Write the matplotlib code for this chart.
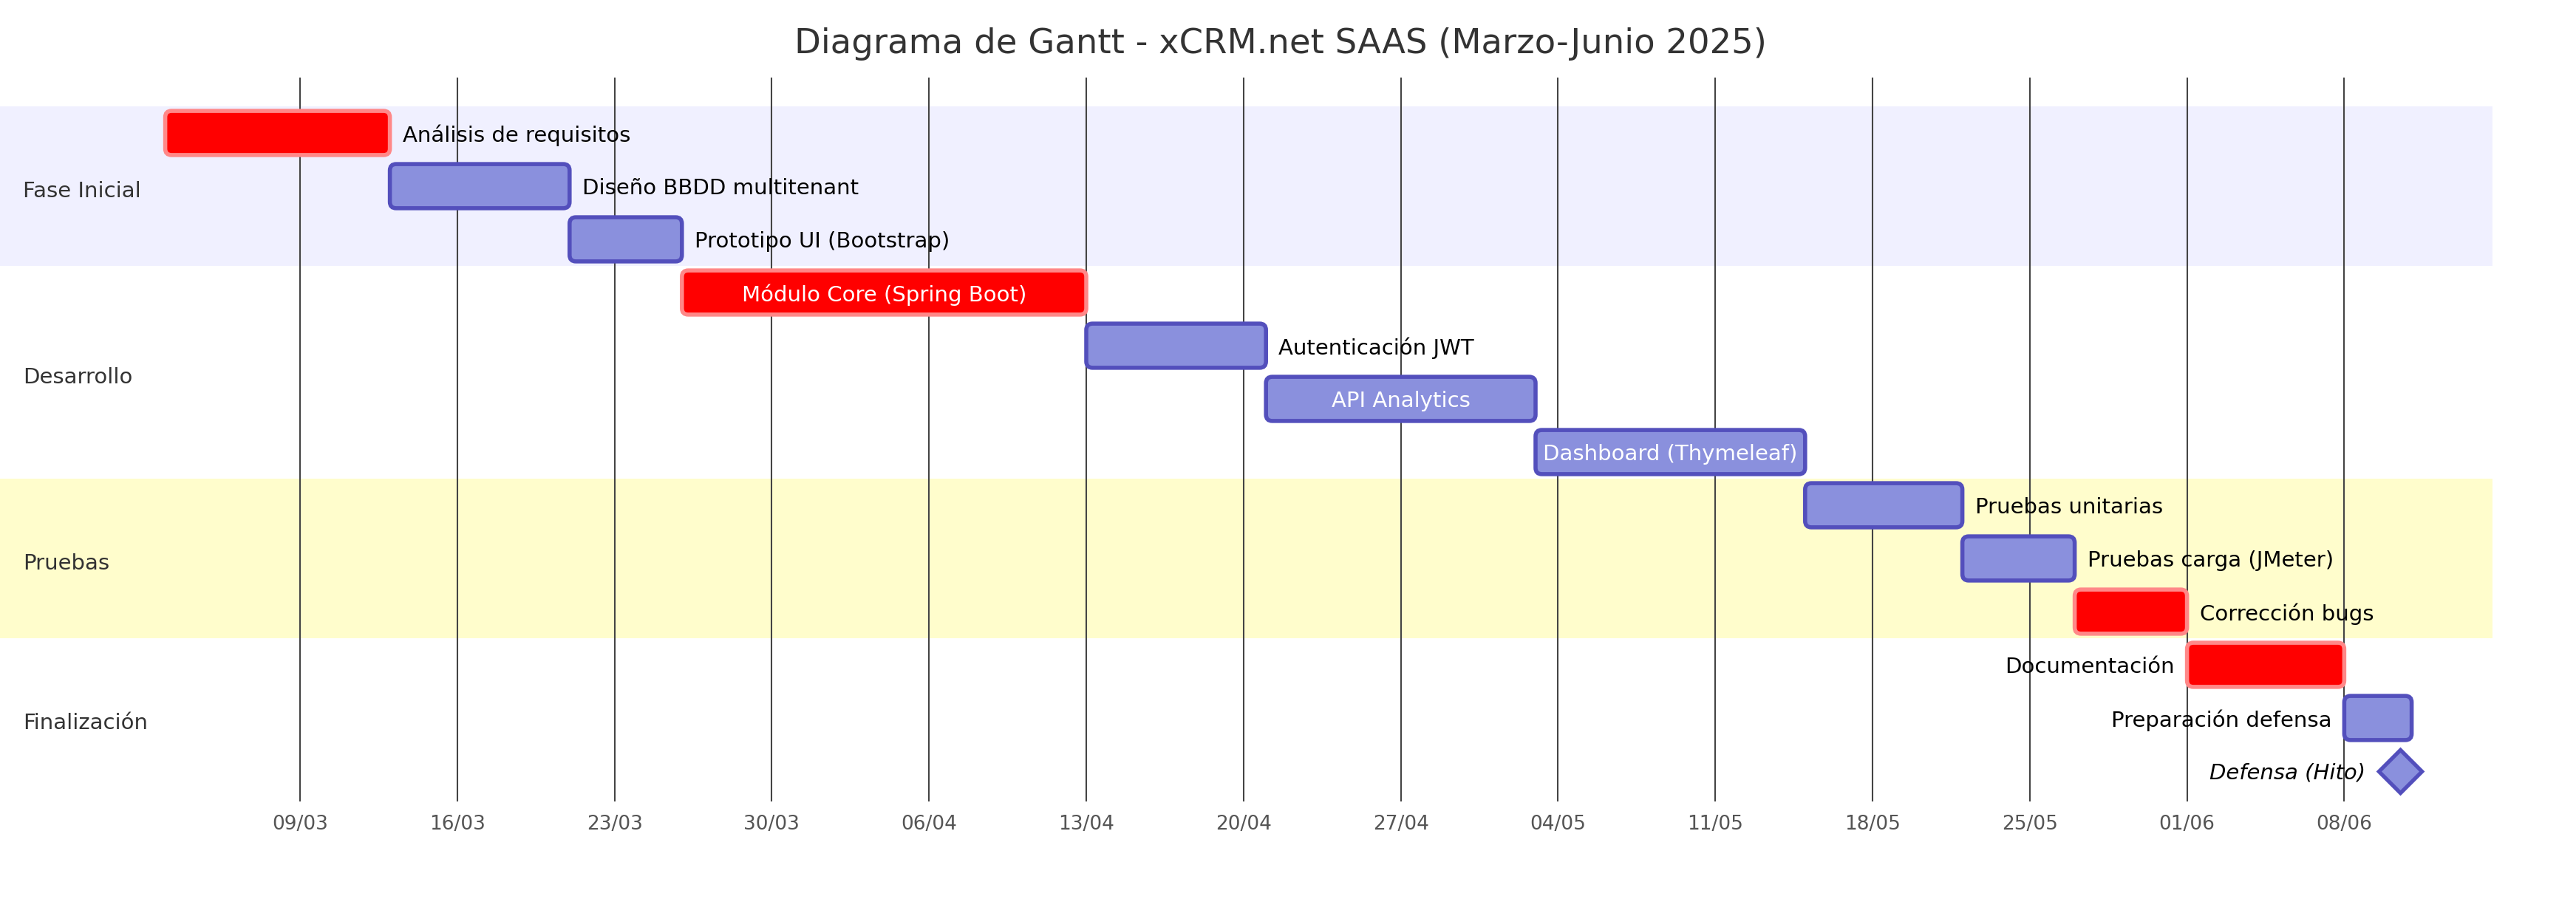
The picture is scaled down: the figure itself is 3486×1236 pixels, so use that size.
import matplotlib
matplotlib.use("Agg")
import matplotlib.pyplot as plt
import matplotlib.dates as mdates
from matplotlib.patches import FancyBboxPatch
import pandas as pd

# ---------------- data ----------------
title = "Diagrama de Gantt - xCRM.net SAAS (Marzo-Junio 2025)"
sections = ["Fase Inicial", "Desarrollo", "Pruebas", "Finalización"]
task_names = [
    "Análisis de requisitos",
    "Diseño BBDD multitenant",
    "Prototipo UI (Bootstrap)",
    "Módulo Core (Spring Boot)",
    "Autenticación JWT",
    "API Analytics",
    "Dashboard (Thymeleaf)",
    "Pruebas unitarias",
    "Pruebas carga (JMeter)",
    "Corrección bugs",
    "Documentación",
    "Preparación defensa",
    "Defensa (Hito)",
]
task_section = [0, 0, 0, 1, 1, 1, 1, 2, 2, 2, 3, 3, 3]
task_start = [
    "2025-03-03", "2025-03-13", "2025-03-21", "2025-03-26", "2025-04-13",
    "2025-04-21", "2025-05-03", "2025-05-15", "2025-05-22", "2025-05-27",
    "2025-06-01", "2025-06-08", "2025-06-10",
]
task_days = [10, 8, 5, 18, 8, 12, 12, 7, 5, 5, 7, 3, 1]
task_crit = [True, False, False, True, False, False, False, False, False,
             True, True, False, False]
task_milestone = [False] * 12 + [True]

# ---------------- style / layout ----------------
W, H, DPI = 3486, 1236, 100
FONT = "DejaVu Sans"
plt.rcParams["font.family"] = [FONT]

ROW0_PX = 180.0      # pixel centre of first row
ROW_PX = 72.0        # row pitch
AX_TOP_PX = 105.0
AX_BOT_PX = 1085.0
PX_PER_DAY = 30.4
FIRST_TICK_PX = 406.0
BAND_RIGHT_PX = 3373.0

sec_colors = ["#f0f0ff", "#ffffff", "#fffdcc", "#ffffff"]
norm_fc, norm_ec = "#8a90dd", "#534fbc"
crit_fc, crit_ec = "#ff0000", "#ff8888"
grid_color = "#444444"

starts = pd.to_datetime(task_start)
start_num = mdates.date2num(starts.to_pydatetime())
n = len(task_names)

# weekly ticks (Sundays) within the data range
first_tick = starts.min() + pd.offsets.Week(weekday=6)
last_end = (starts + pd.to_timedelta(task_days, unit="D")).max()
ticks = pd.date_range(first_tick, last_end, freq="W-SUN")
tick_num = mdates.date2num(ticks.to_pydatetime())

fig = plt.figure(figsize=(W / DPI, H / DPI), dpi=DPI)
ax = fig.add_axes([0, 1 - AX_BOT_PX / H, 1, (AX_BOT_PX - AX_TOP_PX) / H])
x_left = tick_num[0] - FIRST_TICK_PX / PX_PER_DAY
x_right = tick_num[0] + (W - FIRST_TICK_PX) / PX_PER_DAY
ax.set_xlim(x_left, x_right)
ax.set_ylim((AX_BOT_PX - ROW0_PX) / ROW_PX, (AX_TOP_PX - ROW0_PX) / ROW_PX)
for s in ax.spines.values():
    s.set_visible(False)
ax.set_yticks([])
ax.set_xticks(tick_num)
ax.set_xticklabels([t.strftime("%d/%m") for t in ticks])
ax.tick_params(axis="x", length=0, pad=13, labelsize=19, labelcolor="#555555")

# section bands + labels
yax = ax.get_yaxis_transform()
for si, name in enumerate(sections):
    rows = [i for i in range(n) if task_section[i] == si]
    lo, hi = min(rows) - 0.5, max(rows) + 0.5
    ax.axhspan(lo, hi, xmin=0, xmax=BAND_RIGHT_PX / W,
               color=sec_colors[si % 4], lw=0, zorder=0)
    ax.text(31 / W, (lo + hi) / 2 + 0.1, name, transform=yax, ha="left",
            va="center", fontsize=21, color="#333333", zorder=5)

# grid lines
for t in tick_num:
    ax.axvline(t, color=grid_color, lw=1.5, zorder=1)

# rounding aspect
p0 = ax.transData.transform((0, 0))
p1 = ax.transData.transform((1, 1))
px_x = abs(p1[0] - p0[0])
px_y = abs(p1[1] - p0[1])
m_aspect = px_x / px_y

renderer = fig.canvas.get_renderer()
bar_h = 0.83
gap_days = 17 / px_x
right_limit = x_left + BAND_RIGHT_PX / px_x

for i in range(n):
    fc, ec = (crit_fc, crit_ec) if task_crit[i] else (norm_fc, norm_ec)
    x0 = start_num[i]
    w = task_days[i]
    if task_milestone[i]:
        cx = x0 + w / 2
        ax.plot([cx], [i], marker=(4, 0, 0), markersize=42, mfc=norm_fc,
                mec=norm_ec, mew=3.8, zorder=3, linestyle="none")
        half = 33 / px_x
        ax.text(cx - half - 14 / px_x, i + 0.04, task_names[i], ha="right",
                va="center", fontsize=21, style="italic", color="black",
                zorder=5)
        continue
    patch = FancyBboxPatch((x0, i - bar_h / 2), w, bar_h,
                           boxstyle="round,pad=0,rounding_size=0.28",
                           mutation_aspect=m_aspect, fc=fc, ec=ec, lw=4,
                           zorder=3)
    ax.add_patch(patch)
    txt = ax.text(x0 + w / 2, i + 0.04, task_names[i], ha="center",
                  va="center", fontsize=21, color="white", zorder=5)
    tw = txt.get_window_extent(renderer).width / px_x
    if tw > w:
        if x0 + w + gap_days + tw > right_limit:
            txt.set_x(x0 - gap_days)
            txt.set_ha("right")
        else:
            txt.set_x(x0 + w + gap_days)
            txt.set_ha("left")
        txt.set_color("black")

fig.text(1733 / W, 1 - 60 / H, title, ha="center", va="center",
         fontsize=33.5, color="#333333")

fig.savefig("out.png", dpi=DPI, facecolor="white")
